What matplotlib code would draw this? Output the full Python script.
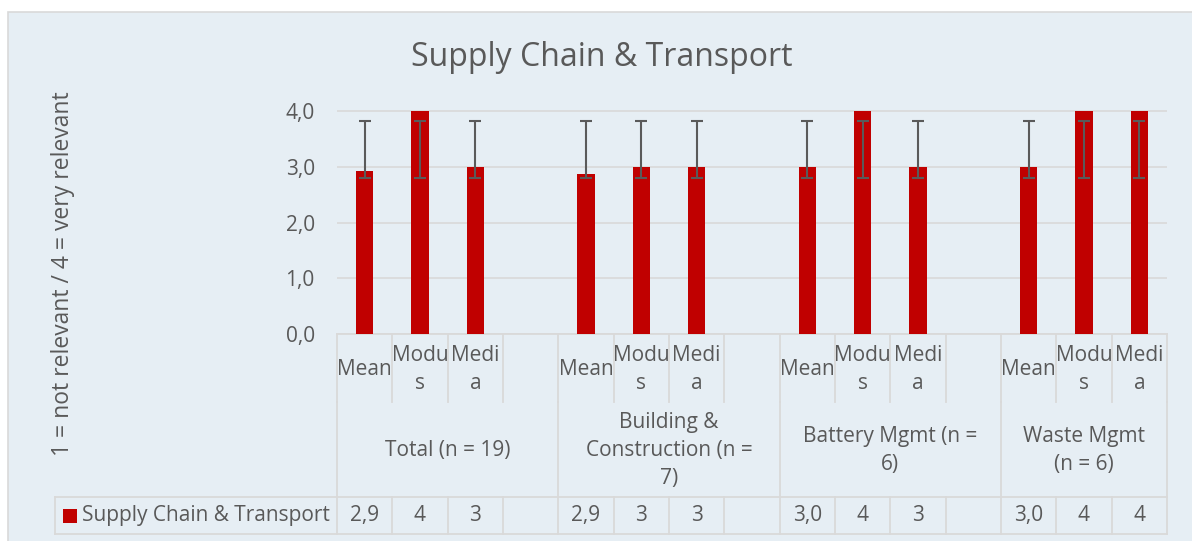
import numpy as np
import matplotlib
matplotlib.use("Agg")
import matplotlib.pyplot as plt
from matplotlib.patches import Rectangle

# ---------------- data ----------------
title = "Supply Chain & Transport"
ylabel = "1 = not relevant / 4 = very relevant"
series_name = "Supply Chain & Transport"
categories = ["Mean", "Modus", "Media", "",
              "Mean", "Modus", "Media", "",
              "Mean", "Modus", "Media", "",
              "Mean", "Modus", "Media"]
category_display = ["Mean", "Modu\ns", "Medi\na", "",
                    "Mean", "Modu\ns", "Medi\na", "",
                    "Mean", "Modu\ns", "Medi\na", "",
                    "Mean", "Modu\ns", "Medi\na"]
values = [2.93, 4, 3, np.nan,
          2.86, 3, 3, np.nan,
          3.00, 4, 3, np.nan,
          3.00, 4, 4]
err_low = [2.80, 2.80, 2.80, np.nan,
           2.80, 2.80, 2.80, np.nan,
           2.80, 2.80, 2.80, np.nan,
           2.80, 2.80, 2.80]
err_high = [3.82, 3.82, 3.82, np.nan,
            3.82, 3.82, 3.82, np.nan,
            3.82, 3.82, 3.82, np.nan,
            3.82, 3.82, 3.82]
groups = ["Total (n = 19)", "Building &\nConstruction (n =\n7)",
          "Battery Mgmt (n =\n6)", "Waste Mgmt\n(n = 6)"]
group_spans = [(0, 4), (4, 8), (8, 12), (12, 15)]
yticks = [0, 1, 2, 3, 4]
ytick_labels = ["0,0", "1,0", "2,0", "3,0", "4,0"]

# ---------------- style ----------------
W, H = 1192, 541
BG = "#E6EEF4"
LINE = "#D9D9D9"
TXT = "#595959"
RED = "#C00000"
FONT = "Open Sans"
FS = 15
LS = 1.45

plt.rcParams['font.family'] = [FONT, 'DejaVu Sans']

fig = plt.figure(figsize=(W / 100, H / 100), dpi=100)
fig.patch.set_facecolor("white")

# background / table axes in pixel coordinates
bg = fig.add_axes([0, 0, 1, 1], zorder=0)
bg.set_xlim(0, W)
bg.set_ylim(H, 0)
bg.axis("off")
bg.add_patch(Rectangle((8, 12), W + 20, H + 20, facecolor=BG,
                       edgecolor=LINE, lw=1.2))

# plot area geometry (pixels)
X0, X1 = 337, 1167
Y0 = 334.3          # value 0
UNIT = (334.3 - 110.7) / 4.0
YMAX = 4.3
n = len(categories)
colw = (X1 - X0) / n

ax = fig.add_axes([X0 / W, 1 - Y0 / H, (X1 - X0) / W, YMAX * UNIT / H], zorder=1)
ax.patch.set_visible(False)
ax.set_xlim(-0.5, n - 0.5)
ax.set_ylim(0, YMAX)
for s in ax.spines.values():
    s.set_visible(False)
ax.set_yticks(yticks)
ax.set_yticklabels(ytick_labels, color=TXT, fontsize=FS)
ax.tick_params(axis="y", length=0, pad=16)
ax.set_xticks([])
ax.yaxis.grid(True, color=LINE, lw=1.2)
ax.set_axisbelow(True)

x = np.arange(n)
vals = np.array(values, dtype=float)
ax.bar(x, vals, width=0.31, color=RED, zorder=2)
lo = np.array(err_low, dtype=float)
hi = np.array(err_high, dtype=float)
ax.errorbar(x, (lo + hi) / 2, yerr=(hi - lo) / 2, fmt="none", ecolor="#5A5A5A",
            elinewidth=1.5, capsize=4.3, capthick=1.5, zorder=3)

# ---------------- table ----------------
R0, R1, R2, R3 = Y0, 402, 497, 534
LEG_X = 55
bounds = [X0 + k * colw for k in range(n + 1)]
lw = 1.3
bg.plot([X0, X1], [R0, R0], color=LINE, lw=lw)
bg.plot([LEG_X, X1], [R2, R2], color=LINE, lw=lw)
bg.plot([LEG_X, X1], [R3, R3], color=LINE, lw=lw)
for b in bounds:
    bg.plot([b, b], [R0, R1], color=LINE, lw=lw)
    bg.plot([b, b], [R2, R3], color=LINE, lw=lw)
gb = sorted(set([s for s, e in group_spans] + [e for s, e in group_spans]))
for g in gb:
    b = bounds[g]
    bg.plot([b, b], [R1, R2], color=LINE, lw=lw)
bg.plot([LEG_X, LEG_X], [R2, R3], color=LINE, lw=lw)

for i, lab in enumerate(category_display):
    cx = (bounds[i] + bounds[i + 1]) / 2
    bg.text(cx, (R0 + R1) / 2 + 1.5, lab, ha="center", va="center", color=TXT,
            fontsize=FS, linespacing=LS)
    v = vals[i]
    if not np.isnan(v):
        s = f"{v:.1f}".replace(".", ",") if categories[i] == "Mean" else f"{v:.0f}"
        bg.text(cx, (R2 + R3) / 2, s, ha="center", va="center", color=TXT, fontsize=FS)

for g, (s, e) in zip(groups, group_spans):
    cx = (bounds[s] + bounds[e]) / 2
    bg.text(cx, (R1 + R2) / 2 + 1, g, ha="center", va="center", color=TXT,
            fontsize=FS, linespacing=LS, multialignment="center")

# legend cell
bg.add_patch(Rectangle((63, 509), 14, 14, facecolor=RED, edgecolor="none"))
bg.text(82, (R2 + R3) / 2, series_name, ha="left", va="center", color=TXT, fontsize=FS)

# title and y label
bg.text(602, 57, title, ha="center", va="center", color=TXT, fontsize=23)
bg.text(63, 274, ylabel, ha="center", va="center", rotation=90, color=TXT, fontsize=16.5)

fig.savefig("out.png", dpi=100, facecolor="white")
